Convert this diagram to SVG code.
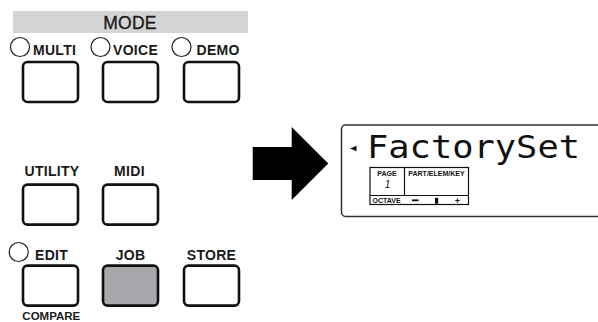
<svg xmlns="http://www.w3.org/2000/svg" width="598" height="322" viewBox="0 0 598 322">
<defs>
<style>
.lbl{font-family:"Liberation Sans",Arial,sans-serif;font-weight:bold;font-size:14px;letter-spacing:0.3px;fill:#1a1a1a}
.btn{fill:#fff;stroke:#111;stroke-width:2.6}
.led{fill:#fff;stroke:#222;stroke-width:1.2}
.tbl{font-family:"Liberation Sans",Arial,sans-serif;font-weight:bold;font-size:7px;fill:#111}
.tline{fill:none;stroke:#111;stroke-width:1.2}
</style>
</defs>
<rect width="598" height="322" fill="#fff"/>
<g id="mode-bar">
<rect x="13" y="11" width="235" height="22" fill="#d4d4d4"/>
<text x="130" y="28.5" text-anchor="middle" font-family="Liberation Sans, Arial, sans-serif" font-size="17.5" letter-spacing="0.3" fill="#1a1a1a" stroke="#1a1a1a" stroke-width="0.35">MODE</text>
</g>
<g id="multi">
<circle class="led" cx="20" cy="47" r="9.5"/>
<text class="lbl" x="33" y="55">MULTI</text>
<rect class="btn" x="23" y="62" width="55" height="40" rx="4.5"/>
</g>
<g id="voice">
<circle class="led" cx="100.5" cy="47" r="9.5"/>
<text class="lbl" x="113" y="55">VOICE</text>
<rect class="btn" x="103" y="62" width="55" height="40" rx="4.5"/>
</g>
<g id="demo">
<circle class="led" cx="181.5" cy="47" r="9.5"/>
<text class="lbl" x="196.5" y="55">DEMO</text>
<rect class="btn" x="184" y="62" width="55" height="40" rx="4.5"/>
</g>
<g id="utility">
<text class="lbl" x="52" y="176" text-anchor="middle">UTILITY</text>
<rect class="btn" x="23" y="184.6" width="55" height="40" rx="4.5"/>
</g>
<g id="midi">
<text class="lbl" x="129.5" y="176" text-anchor="middle">MIDI</text>
<rect class="btn" x="103" y="184.6" width="55" height="40" rx="4.5"/>
</g>
<g id="edit">
<circle class="led" cx="18.7" cy="252" r="9.5"/>
<text class="lbl" x="35" y="259.5">EDIT</text>
<rect class="btn" x="23" y="265.6" width="55" height="40" rx="4.5"/>
<text class="lbl" x="51.3" y="320" text-anchor="middle" style="font-size:11.5px;letter-spacing:0">COMPARE</text>
</g>
<g id="job">
<text class="lbl" x="130.5" y="259.5" text-anchor="middle">JOB</text>
<rect class="btn" x="103" y="265.6" width="55" height="40" rx="4.5" style="fill:#a7a8ab"/>
</g>
<g id="store">
<text class="lbl" x="211.5" y="259.5" text-anchor="middle">STORE</text>
<rect class="btn" x="184" y="265.6" width="55" height="40" rx="4.5"/>
</g>
<g id="connectors">
<polygon points="252.7,147 291.7,147 291.7,127 328.3,163.5 291.7,200 291.7,180 252.7,180" fill="#000"/>
</g>
<g id="display">
<rect x="341.5" y="125" width="300" height="91.5" rx="4" fill="#fff" stroke="#333" stroke-width="1.5"/>
<polygon points="350,148.5 356.5,145.8 356.5,151.2" fill="#111"/>
<text x="367" y="157.5" font-family="DejaVu Sans Mono, Liberation Mono, monospace" font-size="32" textLength="213" lengthAdjust="spacingAndGlyphs" fill="#111">FactorySet</text>
<rect class="tline" x="370" y="167.5" width="98.5" height="37"/>
<line class="tline" x1="404.5" y1="167.5" x2="404.5" y2="195.5"/>
<line class="tline" x1="370" y1="195.5" x2="468.5" y2="195.5"/>
<text class="tbl" x="387" y="175.5" text-anchor="middle">PAGE</text>
<text class="tbl" x="436.5" y="175.5" text-anchor="middle">PART/ELEM/KEY</text>
<text x="387.5" y="187.5" text-anchor="middle" font-family="Liberation Sans, Arial, sans-serif" font-style="italic" font-size="10" fill="#111">1</text>
<text class="tbl" x="372.5" y="203.3">OCTAVE</text>
<rect x="412" y="199.4" width="6.5" height="1.8" fill="#111"/>
<rect x="435" y="197.8" width="3.2" height="6" fill="#111"/>
<text x="457.5" y="203.8" text-anchor="middle" font-family="Liberation Sans, Arial, sans-serif" font-weight="bold" font-size="9" fill="#111">+</text>
</g>
</svg>
